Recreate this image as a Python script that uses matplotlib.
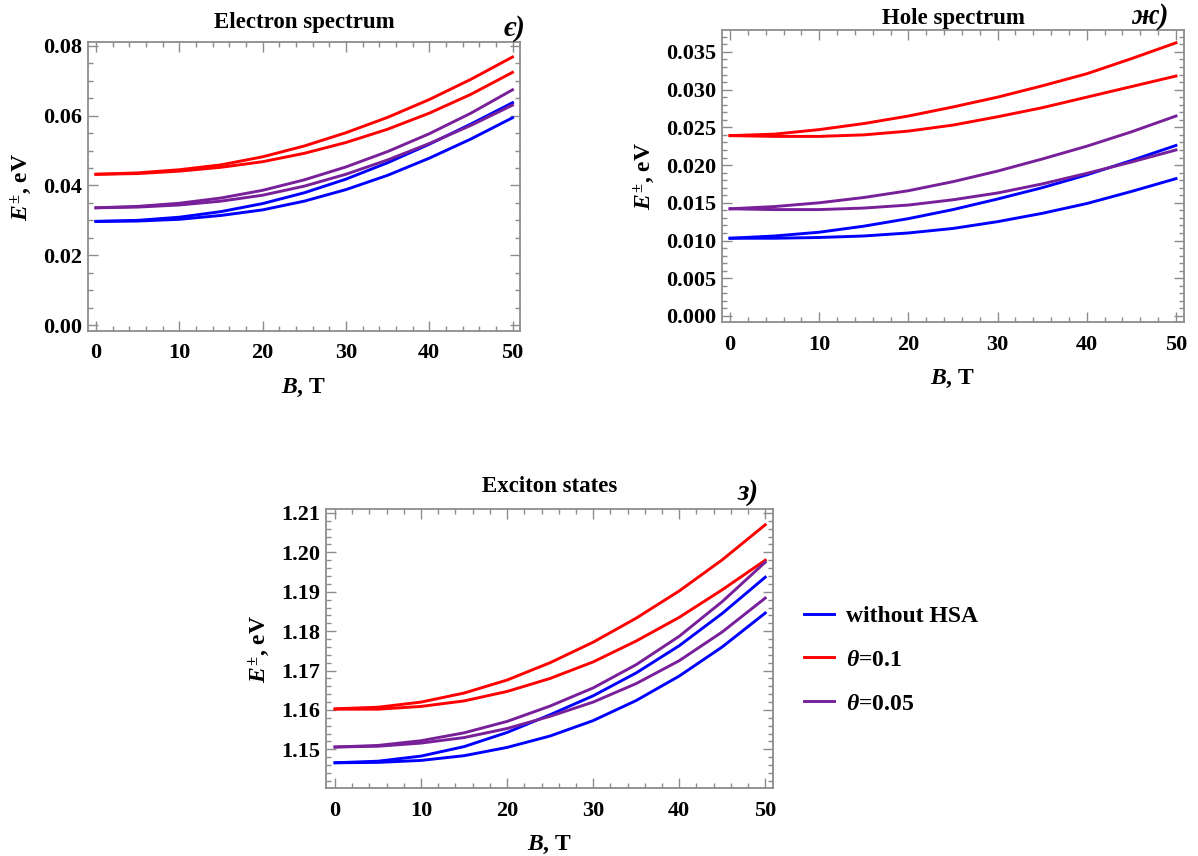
import matplotlib
matplotlib.use("Agg")
import matplotlib.pyplot as plt
from matplotlib.ticker import FixedLocator, MultipleLocator, FormatStrFormatter

plt.rcParams['font.family'] = ['Liberation Serif', 'DejaVu Serif']
plt.rcParams['font.weight'] = 'bold'
plt.rcParams['mathtext.fontset'] = 'custom'
plt.rcParams['mathtext.rm'] = 'Liberation Serif:bold'
plt.rcParams['mathtext.it'] = 'Liberation Serif:italic:bold'
plt.rcParams['mathtext.bf'] = 'Liberation Serif:bold'

# magnetic field, T
B = [0, 5, 10, 15, 20, 25, 30, 35, 40, 45, 50]

# electron spectrum, eV
el_red_up = [0.0432, 0.0436, 0.0445, 0.0459, 0.0482, 0.0513, 0.0551, 0.0595, 0.0646, 0.0704, 0.0768]
el_red_lo = [0.0432, 0.0434, 0.0441, 0.0452, 0.0468, 0.0492, 0.0523, 0.0561, 0.0607, 0.0661, 0.0724]
el_pur_up = [0.0336, 0.0340, 0.0349, 0.0364, 0.0386, 0.0416, 0.0453, 0.0497, 0.0548, 0.0607, 0.0674]
el_pur_lo = [0.0336, 0.0338, 0.0344, 0.0355, 0.0372, 0.0398, 0.0432, 0.0473, 0.0520, 0.0572, 0.0630]
el_blu_up = [0.0297, 0.0300, 0.0309, 0.0325, 0.0348, 0.0379, 0.0418, 0.0465, 0.0518, 0.0576, 0.0637]
el_blu_lo = [0.0297, 0.0298, 0.0303, 0.0314, 0.0330, 0.0355, 0.0388, 0.0429, 0.0478, 0.0533, 0.0594]

# hole spectrum, eV
ho_red_up = [0.0239, 0.0241, 0.0247, 0.0255, 0.0265, 0.0277, 0.0290, 0.0305, 0.0321, 0.0341, 0.0362]
ho_red_lo = [0.0239, 0.0238, 0.0238, 0.0240, 0.0245, 0.0253, 0.0264, 0.0276, 0.0290, 0.0304, 0.0318]
ho_pur_up = [0.0142, 0.0145, 0.0150, 0.0157, 0.0166, 0.0178, 0.0192, 0.0208, 0.0225, 0.0244, 0.0265]
ho_pur_lo = [0.0142, 0.0141, 0.0141, 0.0143, 0.0147, 0.0154, 0.0163, 0.0175, 0.0189, 0.0204, 0.0220]
ho_blu_up = [0.0103, 0.0106, 0.0111, 0.0119, 0.0129, 0.0141, 0.0155, 0.0170, 0.0187, 0.0206, 0.0226]
ho_blu_lo = [0.0103, 0.0103, 0.0104, 0.0106, 0.0110, 0.0116, 0.0125, 0.0136, 0.0149, 0.0165, 0.0182]

# exciton states, eV
ex_red_up = [1.1603, 1.1607, 1.1620, 1.1643, 1.1676, 1.1720, 1.1772, 1.1833, 1.1902, 1.1981, 1.2070]
ex_red_lo = [1.1602, 1.1602, 1.1609, 1.1623, 1.1647, 1.1680, 1.1722, 1.1775, 1.1835, 1.1905, 1.1980]
ex_pur_up = [1.1506, 1.1510, 1.1522, 1.1542, 1.1571, 1.1610, 1.1656, 1.1715, 1.1787, 1.1875, 1.1975]
ex_pur_lo = [1.1506, 1.1508, 1.1516, 1.1530, 1.1553, 1.1584, 1.1620, 1.1667, 1.1725, 1.1798, 1.1884]
ex_blu_up = [1.1466, 1.1470, 1.1483, 1.1507, 1.1543, 1.1588, 1.1636, 1.1694, 1.1763, 1.1845, 1.1937]
ex_blu_lo = [1.1466, 1.1467, 1.1472, 1.1484, 1.1505, 1.1534, 1.1573, 1.1624, 1.1686, 1.1760, 1.1846]

labels = ['without HSA', r'$\theta$=0.1', r'$\theta$=0.05']
c_blue = '#0000ff'
c_red = '#ff0000'
c_pur = '#78209a'
frame_col = '#8c8c8c'
lw = 2.1
W, H = 1198, 856

fig = plt.figure(figsize=(W / 100, H / 100), dpi=100)
fig.patch.set_facecolor('white')


def box(l, t, r, b):
    return [l / W, 1 - b / H, (r - l) / W, (b - t) / H]


def style(ax, yticks, ymin, fmt):
    for s in ax.spines.values():
        s.set_color(frame_col)
        s.set_linewidth(1.3)
    ax.xaxis.set_major_locator(FixedLocator([0, 10, 20, 30, 40, 50]))
    ax.xaxis.set_minor_locator(MultipleLocator(2))
    ax.yaxis.set_major_locator(FixedLocator(yticks))
    ax.yaxis.set_minor_locator(MultipleLocator(ymin))
    ax.yaxis.set_major_formatter(FormatStrFormatter(fmt))
    ax.tick_params(which='both', direction='in', top=True, right=True,
                   color=frame_col, labelsize=16, width=1)
    ax.tick_params(which='major', length=7)
    ax.tick_params(which='minor', length=3.5)
    ax.tick_params(axis='x', pad=9)
    ax.tick_params(axis='y', pad=4)
    for lab in ax.get_xticklabels() + ax.get_yticklabels():
        lab.set_fontweight('bold')
    ax.set_xlabel(r'$B$, T', fontsize=17, fontweight='bold', labelpad=10)
    ax.set_ylabel(r'$E^{\pm}$, eV', fontsize=17, fontweight='bold', labelpad=7)


def curves(ax, ru, rl, pu, pl, bu, bl):
    ax.plot(B, bu, color=c_blue, lw=lw, label=labels[0])
    ax.plot(B, bl, color=c_blue, lw=lw)
    ax.plot(B, ru, color=c_red, lw=lw, label=labels[1])
    ax.plot(B, rl, color=c_red, lw=lw)
    ax.plot(B, pu, color=c_pur, lw=lw, label=labels[2])
    ax.plot(B, pl, color=c_pur, lw=lw)


# electron
ax1 = fig.add_axes(box(88, 42, 520, 331))
curves(ax1, el_red_up, el_red_lo, el_pur_up, el_pur_lo, el_blu_up, el_blu_lo)
ax1.set_xlim(-0.95, 50.9)
ax1.set_ylim(-0.0017, 0.0811)
style(ax1, [0.0, 0.02, 0.04, 0.06, 0.08], 0.005, '%.2f')
ax1.set_title('Electron spectrum', fontsize=16.5, fontweight='bold', pad=10)

# hole
ax2 = fig.add_axes(box(722, 30, 1184, 322))
curves(ax2, ho_red_up, ho_red_lo, ho_pur_up, ho_pur_lo, ho_blu_up, ho_blu_lo)
ax2.set_xlim(-0.9, 50.9)
ax2.set_ylim(-0.0008, 0.0379)
style(ax2, [0.0, 0.005, 0.01, 0.015, 0.02, 0.025, 0.03, 0.035], 0.001, '%.3f')
ax2.set_title('Hole spectrum', fontsize=16.5, fontweight='bold', pad=4)

# exciton
ax3 = fig.add_axes(box(326, 509, 773, 788))
curves(ax3, ex_red_up, ex_red_lo, ex_pur_up, ex_pur_lo, ex_blu_up, ex_blu_lo)
ax3.set_xlim(-1.05, 50.9)
ax3.set_ylim(1.1402, 1.211)
style(ax3, [1.15, 1.16, 1.17, 1.18, 1.19, 1.20, 1.21], 0.002, '%.2f')
ax3.set_title('Exciton states', fontsize=16.5, fontweight='bold', pad=12)

leg = ax3.legend(loc='upper left', bbox_to_anchor=(783 / W, 1 - 584 / H),
                 bbox_transform=fig.transFigure, frameon=False,
                 prop={'family': 'Liberation Serif', 'weight': 'bold', 'size': 17},
                 handlelength=1.25, handletextpad=0.5, labelspacing=0.95)

# panel letters
for txt, x, y in [('є)', 515, 28), ('ж)', 1150, 17), ('з)', 748, 493)]:
    fig.text(x / W, 1 - y / H, txt, fontsize=21, fontstyle='italic',
             fontweight='bold', ha='center', va='center')

fig.savefig('out.png', dpi=100, facecolor='white')
